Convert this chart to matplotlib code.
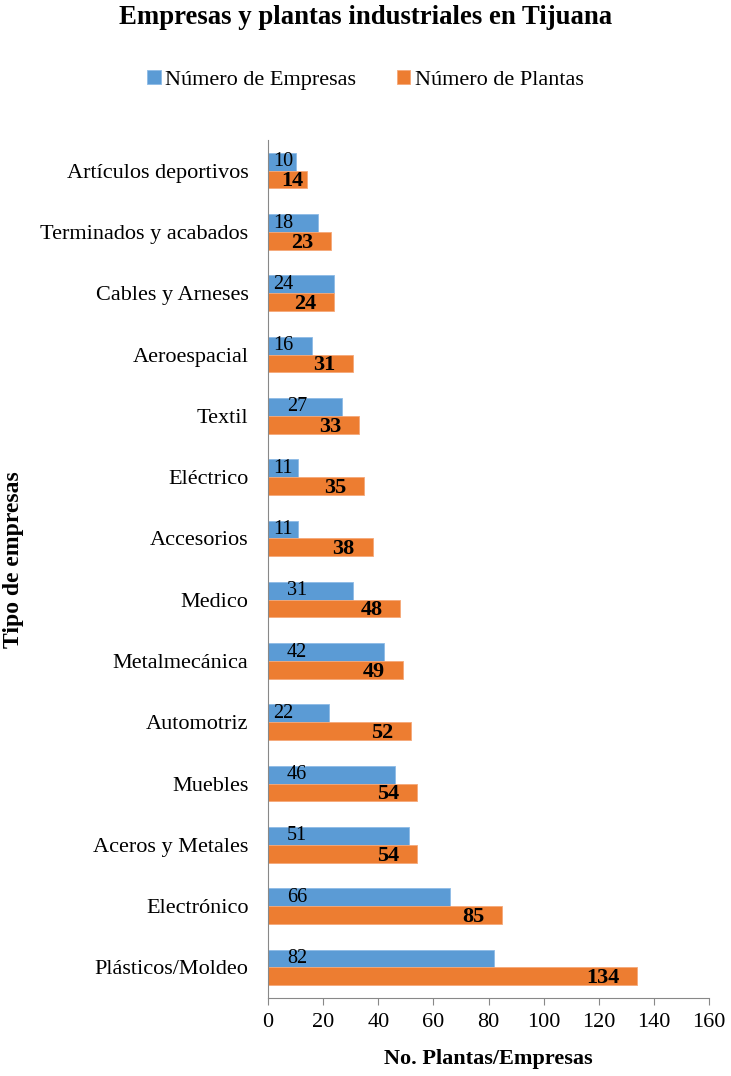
import matplotlib.pyplot as plt
import numpy as np

plt.rcParams['font.family']=['Liberation Serif','DejaVu Serif']

categories=['Artículos deportivos','Terminados y acabados','Cables y Arneses','Aeroespacial','Textil',
	'Eléctrico','Accesorios','Medico','Metalmecánica','Automotriz','Muebles','Aceros y Metales',
	'Electrónico','Plásticos/Moldeo']
empresas=[10,18,24,16,27,11,11,31,42,22,46,51,66,82]
plantas=[14,23,24,31,33,35,38,48,49,52,54,54,85,134]

blue='#5B9BD5'
orange='#ED7D31'

fig=plt.figure(figsize=(7.31,10.76),dpi=100)
ax=fig.add_axes([268/731,1-998/1076,441/731,(998-140)/1076])

y=np.arange(len(categories))
h=0.29
ax.barh(y-h/2,empresas,height=h,color=blue,edgecolor='#8DBBE6',linewidth=0.6,label='Número de Empresas')
ax.barh(y+h/2,plantas,height=h,color=orange,edgecolor='#F5A878',linewidth=0.6,label='Número de Plantas')

for i in range(len(categories)):
	e=empresas[i]
	xe=5.5 if e<26 else 10.5
	ax.text(xe,y[i]-h/2,str(e),ha='center',va='center',fontsize=14.5,color='black')
	xp=max(plantas[i]-6.5,12.8)
	ax.text(xp,y[i]+h/2+0.03,str(plantas[i]),ha='right',va='center',fontsize=16,fontweight='bold',color='black')

ax.set_ylim(len(categories)-0.5,-0.5)
ax.set_xlim(0,160)
ax.set_xticks(range(0,161,20))
ax.set_yticks(y)
ax.set_yticklabels(categories,fontsize=16)
ax.tick_params(axis='y',length=0,pad=14)
ax.tick_params(axis='x',labelsize=16,length=5,color='#888888',direction='out',pad=6)
for s in ['top','right']:
	ax.spines[s].set_visible(False)
ax.spines['left'].set_color('#888888')
ax.spines['bottom'].set_color('#888888')

ax.set_xlabel('No. Plantas/Empresas',fontsize=16,fontweight='bold',labelpad=12)
fig.text(14/731,1-560/1076,'Tipo de empresas',rotation=90,ha='center',va='center',fontsize=17,fontweight='bold')
fig.text(0.5,1-18/1076,'Empresas y plantas industriales en Tijuana',ha='center',va='center',fontsize=19.3,fontweight='bold')
fig.legend(loc='center',bbox_to_anchor=(0.5,1-80/1076),ncol=2,frameon=False,fontsize=16,
	handlelength=0.6,handleheight=0.6,handletextpad=0.2,columnspacing=1.85)

plt.savefig('out.png',dpi=100)
